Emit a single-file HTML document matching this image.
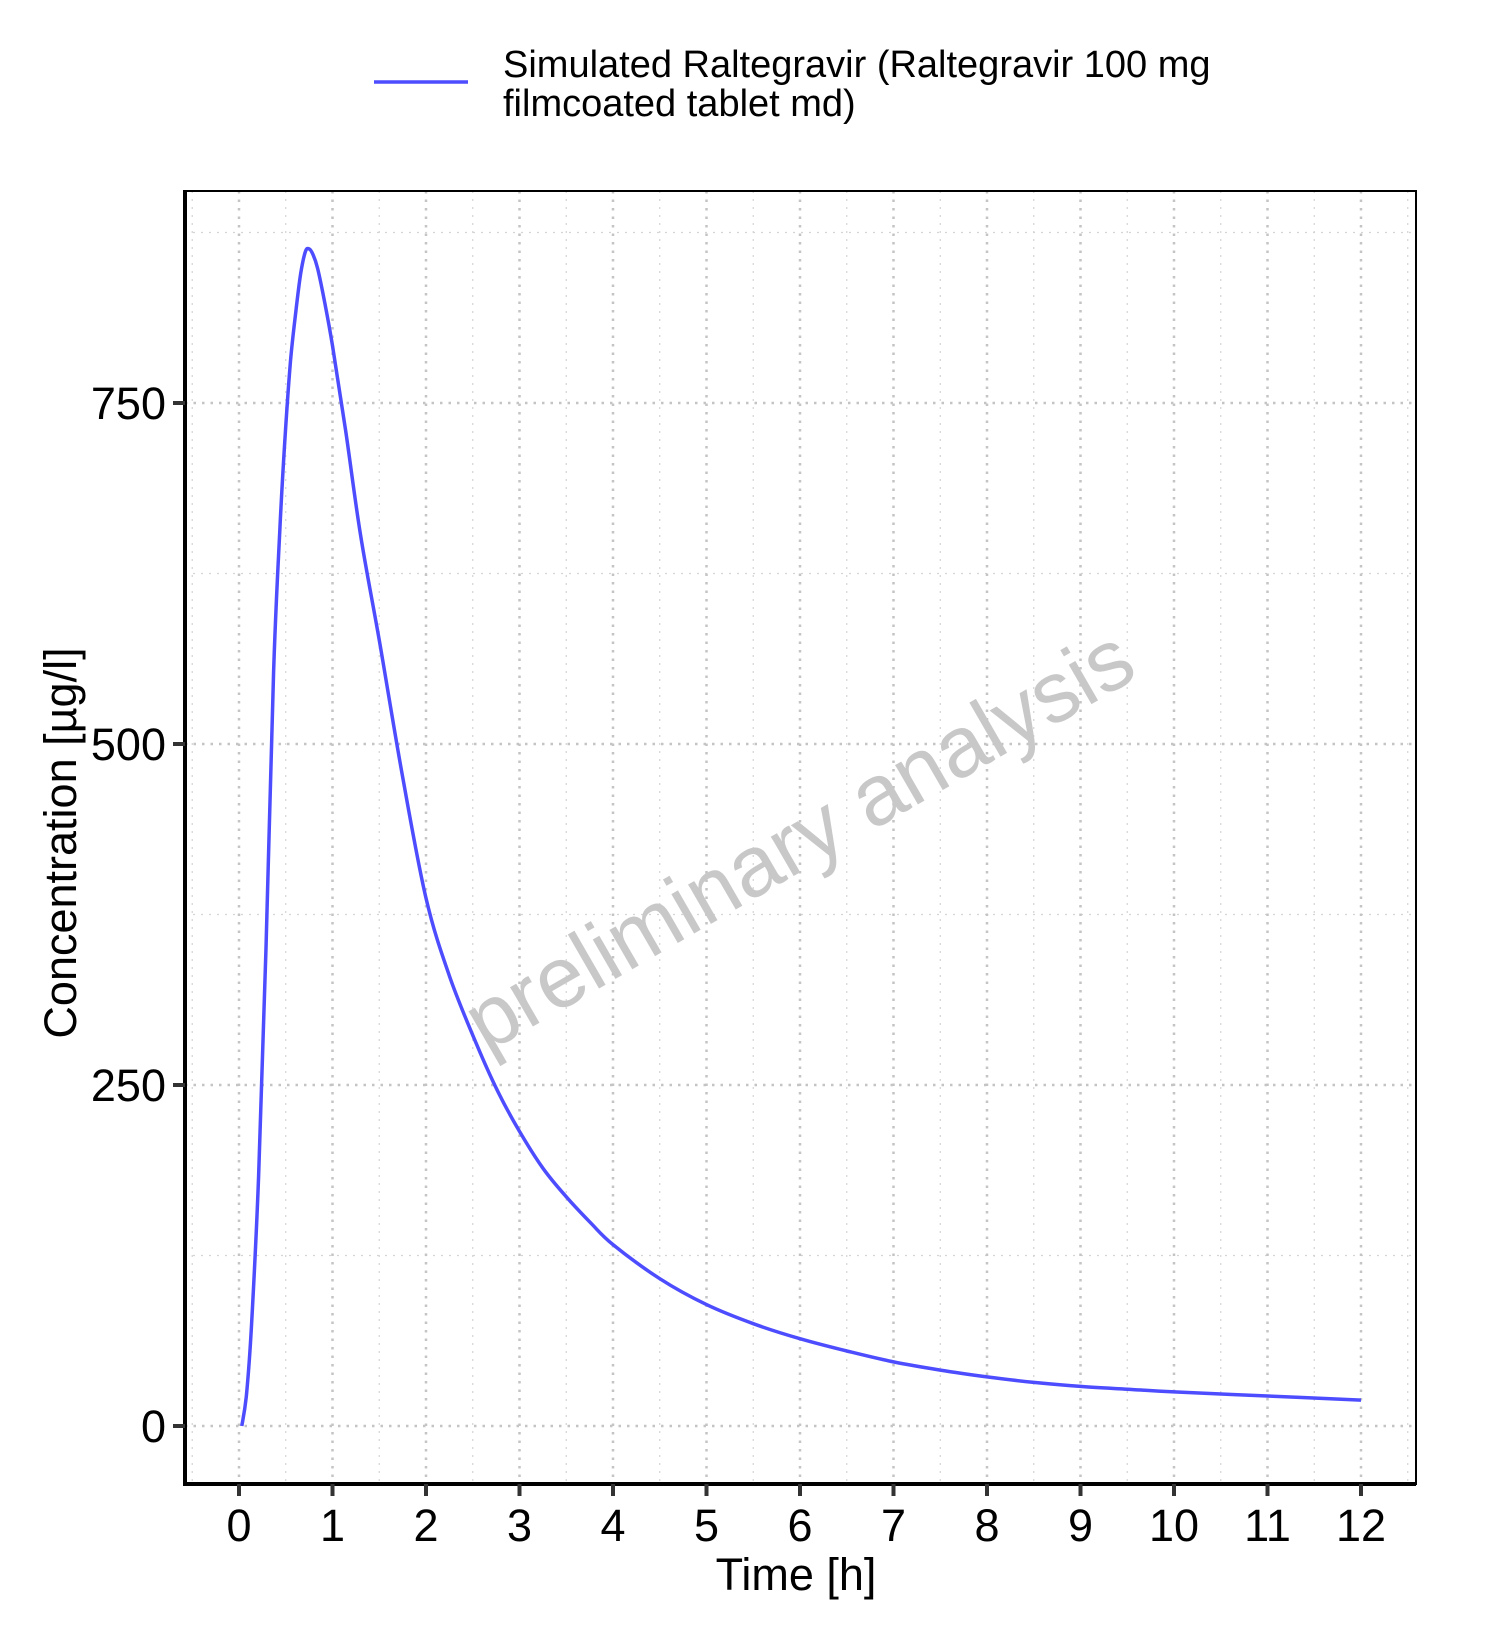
<!DOCTYPE html>
<html><head><meta charset="utf-8"><style>
body{margin:0;background:#fff;}
svg text{font-family:"Liberation Sans",sans-serif;}
</style></head><body>
<svg id="chart" width="1500" height="1646" viewBox="0 0 1500 1646" xmlns="http://www.w3.org/2000/svg">
<rect x="0" y="0" width="1500" height="1646" fill="#fff"/>
<g id="grid"></g>
<text x="0" y="0" transform="translate(802,845) rotate(-30)" text-anchor="middle" dominant-baseline="middle" font-size="86" fill="#c8c8c8">preliminary analysis</text>
<path id="series" fill="none" stroke="#4d4dff" stroke-width="3.5" stroke-linejoin="round"/>
<rect x="185" y="191" width="1231" height="1293" fill="none" stroke="#000" stroke-width="2"/>
<line x1="185" y1="190" x2="185" y2="1486" stroke="#000" stroke-width="4"/>
<line x1="183" y1="1484" x2="1416" y2="1484" stroke="#000" stroke-width="4"/>
<g id="ticks"></g>
<text x="796" y="1590" text-anchor="middle" font-size="45" fill="#000">Time [h]</text>
<text x="0" y="0" transform="translate(76,843) rotate(-90)" text-anchor="middle" font-size="45" fill="#000">Concentration [µg/l]</text>
<g>
<line x1="374" y1="82" x2="468" y2="82" stroke="#4d4dff" stroke-width="3.5"/>
<text x="503" y="77" font-size="38" fill="#000">Simulated Raltegravir (Raltegravir 100 mg</text>
<text x="503" y="116" font-size="38" fill="#000">filmcoated tablet md)</text>
</g>
</svg>
<script>
const times=[0.03,0.08,0.135,0.21,0.29,0.37,0.44,0.49,0.55,0.61,0.66,0.71,0.75,0.79,0.84,0.91,1.0,1.14,1.3,1.5,1.75,2.0,2.25,2.54,2.77,3.0,3.25,3.5,3.76,4.0,4.5,5,5.5,6,6.5,7,7.5,8,8.5,9,9.5,10,11,12];
const conc=[0,23,75,183,353,553,661,722,780,818,845,861,863,859,849,826,792,730,653,576,476,387,330,280,245,216,189,168,149,133,108,89,75,64,55,47,41,36,32,29,27,25,22,19];
const xTicks=[0,1,2,3,4,5,6,7,8,9,10,11,12];
const yTicks=[0,250,500,750];
const yMinor=[125,375,625,875];
const X0=239,XS=93.5,Y0=1426,YS=341/250;
const xs=t=>X0+t*XS, ys=v=>Y0-v*YS;
const NS="http://www.w3.org/2000/svg";
const grid=document.getElementById('grid'),ticks=document.getElementById('ticks');
function ln(p,x1,y1,x2,y2,st,w,da){const l=document.createElementNS(NS,'line');
l.setAttribute('x1',x1);l.setAttribute('y1',y1);l.setAttribute('x2',x2);l.setAttribute('y2',y2);
l.setAttribute('stroke',st);l.setAttribute('stroke-width',w);if(da)l.setAttribute('stroke-dasharray',da);p.appendChild(l);return l;}
for(let i=-0.5;i<=12.5;i+=1){const l=ln(grid,xs(i),191,xs(i),1484,'#d4d4d4',1.2,'2 6');

}
yMinor.forEach(v=>{const l=ln(grid,185,ys(v),1416,ys(v),'#d4d4d4',1.2,'2 6');

});
xTicks.forEach(t=>{const l=ln(grid,xs(t),191,xs(t),1484,'#c4c4c4',2.5,'2.5 6');


const tk=ln(ticks,xs(t),1484,xs(t),1496,'#333',4);


const tx=document.createElementNS(NS,'text');tx.setAttribute('x',xs(t));tx.setAttribute('y',1541);
tx.setAttribute('text-anchor','middle');tx.setAttribute('font-size','45');tx.textContent=t;


ticks.appendChild(tx);});
yTicks.forEach(v=>{const l=ln(grid,185,ys(v),1416,ys(v),'#c4c4c4',2.5,'2.5 6');


const tk=ln(ticks,173,ys(v),185,ys(v),'#333',4);


const tx=document.createElementNS(NS,'text');tx.setAttribute('x',166);tx.setAttribute('y',ys(v)+16);
tx.setAttribute('text-anchor','end');tx.setAttribute('font-size','45');tx.textContent=v;


ticks.appendChild(tx);});
// smooth path (Catmull-Rom)
const P=times.map((t,i)=>[xs(t),ys(conc[i])]);
let d='M'+P[0][0].toFixed(1)+','+P[0][1].toFixed(1);
for(let i=0;i<P.length-1;i++){const p0=P[Math.max(0,i-1)],p1=P[i],p2=P[i+1],p3=P[Math.min(P.length-1,i+2)];
const c1=[p1[0]+(p2[0]-p0[0])/6,p1[1]+(p2[1]-p0[1])/6],c2=[p2[0]-(p3[0]-p1[0])/6,p2[1]-(p3[1]-p1[1])/6];
d+='C'+c1.map(v=>v.toFixed(1)).join(',')+' '+c2.map(v=>v.toFixed(1)).join(',')+' '+p2.map(v=>v.toFixed(1)).join(',');}
document.getElementById('series').setAttribute('d',d);
</script>
</body></html>
